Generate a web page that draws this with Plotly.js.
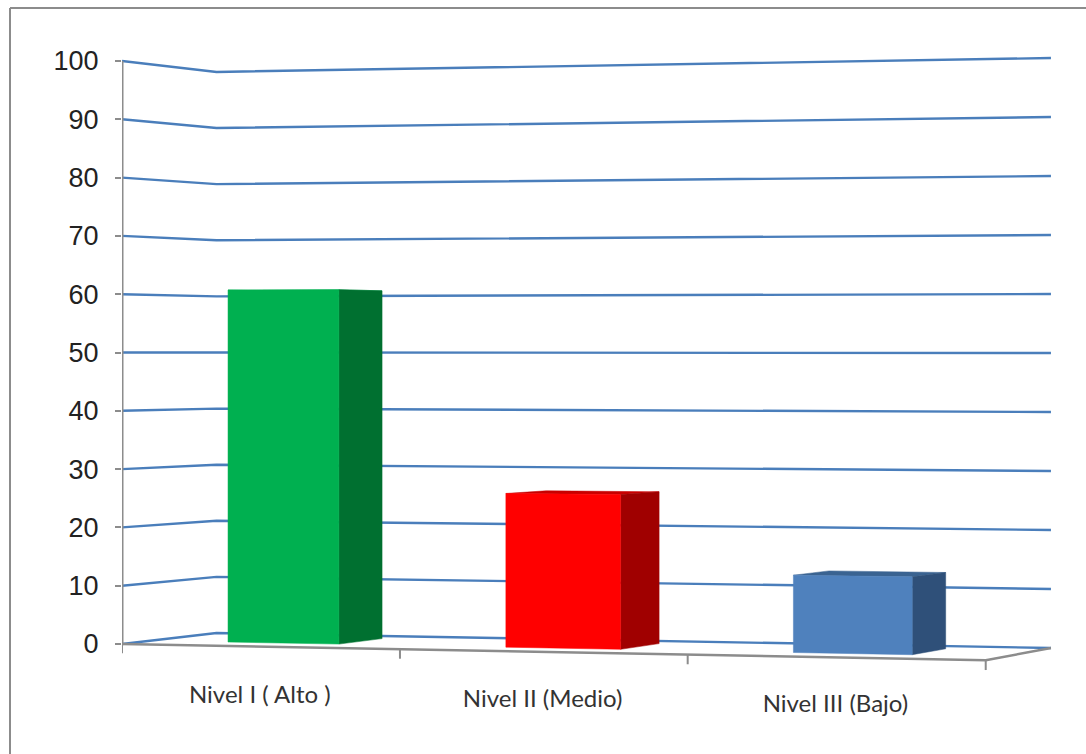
<!DOCTYPE html>
<html>
<head>
<meta charset="utf-8">
<script src="https://cdn.plot.ly/plotly-3.0.1.min.js"></script>
<style>html,body{margin:0;padding:0;background:#fff}#chart{width:1086px;height:754px}</style>
</head>
<body>
<div id="chart"></div>
<script>
// Percentage of cases per level
const categories = ['Nivel I ( Alto )', 'Nivel II (Medio)', 'Nivel III (Bajo)'];
const values = [60.8, 26.1, 12.9];
const gridValues = [0, 10, 20, 30, 40, 50, 60, 70, 80, 90, 100];
const frontColors = ['#00B050', '#FF0000', '#4F81BD'];
const sideColors = ['#007030', '#A00000', '#2F5079'];
const topColors = ['#22B868', '#C80000', '#3A6391'];

// Page geometry in pixels: value 0 and value 100 sit at yZero and yHundred on the front-left edge
const frame = {left: 122, yZero: 644, yHundred: 61, width: 1086, height: 754};
const pxPerUnit = (frame.yZero - frame.yHundred) / 100;

// Perspective camera: u runs along the categories (0..1), v is the value, d is the depth (0..1)
const cam = {ax: 813.5, ad: 103, x0: 122, bu: -17.43, bd: 13.76, wu: -0.05095, wd: 0.0391};
function project(u, v, d) {
  const w = 1 + cam.wu * u + cam.wd * d;
  const px = (cam.ax * u + cam.ad * d + cam.x0) / w;
  const py = (cam.bu * u - pxPerUnit * v + cam.bd * d + frame.yZero) / w;
  return [px, (frame.yZero - py) / pxPerUnit];
}

function path(points, name, color, width) {
  const p = points.map(q => project(q[0], q[1], q[2]));
  return {type: 'scatter', mode: 'lines', name, hoverinfo: 'skip',
    x: p.map(q => q[0]), y: p.map(q => q[1]),
    line: {color, width, simplify: false}};
}
function face(points, name, color) {
  const p = points.concat([points[0]]).map(q => project(q[0], q[1], q[2]));
  return {type: 'scatter', mode: 'lines', name, hoverinfo: 'skip',
    x: p.map(q => q[0]), y: p.map(q => q[1]), fill: 'toself', fillcolor: color,
    line: {color, width: 0.5}};
}

const traces = [];

// Gridlines on the side wall and the back wall
gridValues.forEach(v => {
  traces.push(path([[0, v, 0], [0, v, 1], [1, v, 1]], 'grid ' + v, '#4A7EBB', 2.4));
});

// Value axis line, floor edges and category ticks
traces.push(path([[0, 0, 0], [0, 100, 0]], 'value axis', '#8C8C8C', 3));
traces.push(path([[0, 0, 0], [1, 0, 0], [1, 0, 1]], 'floor', '#8C8C8C', 2.4));
[0, 1 / 3, 2 / 3, 1].forEach((u, i) => {
  traces.push(path([[u, 0, 0], [u, -1.6, 0]], 'tick ' + i, '#8C8C8C', 2));
});

// Bars
const barStart = 0.1615, barStep = 1 / 3, barHalf = 0.0672, d0 = 0.3, d1 = 0.79;
values.forEach((v, i) => {
  const a = barStart + barStep * i - barHalf, b = barStart + barStep * i + barHalf;
  traces.push(face([[a, v, d0], [b, v, d0], [b, v, d1], [a, v, d1]], categories[i] + ' top', topColors[i]));
  traces.push(face([[b, 0, d0], [b, v, d0], [b, v, d1], [b, 0, d1]], categories[i] + ' side', sideColors[i]));
  traces.push(face([[a, 0, d0], [b, 0, d0], [b, v, d0], [a, v, d0]], categories[i], frontColors[i]));
});

// Category labels under the floor edge, centred on each category slot
const labels = categories.map((c, i) => project((i + 0.5) / 3, -8.5 + 0.25 * i, 0));
traces.push({type: 'scatter', mode: 'text', name: 'labels', hoverinfo: 'skip',
  x: labels.map(q => q[0]), y: labels.map(q => q[1]), text: categories, textposition: 'middle center',
  textfont: {family: 'Lato, "Open Sans", sans-serif', size: 24, color: '#333333'}});

// Outer chart border (top and left sides only)
const borderLine = {color: '#8C8C8C', width: 2};
const fx = p => (p - frame.left) / (frame.width - frame.left);
const fy = p => 1 - p / frame.height;

const layout = {
  width: frame.width, height: frame.height, autosize: false,
  margin: {l: frame.left, r: 0, t: 0, b: 0, pad: 0},
  paper_bgcolor: '#ffffff', plot_bgcolor: 'rgba(0,0,0,0)', showlegend: false,
  xaxis: {visible: false, range: [frame.left, frame.width], fixedrange: true},
  yaxis: {range: [(frame.yZero - frame.height) / pxPerUnit, frame.yZero / pxPerUnit],
    tickvals: gridValues, ticks: 'outside', ticklen: 6, tickwidth: 2, tickcolor: '#8C8C8C',
    showline: false, showgrid: false, zeroline: false, fixedrange: true,
    ticklabelstandoff: 11,
    tickfont: {family: '"Liberation Sans", Arial, sans-serif', size: 27, color: '#222222'}},
  shapes: [
    {type: 'line', xref: 'paper', yref: 'paper', x0: fx(10), x1: fx(1086), y0: fy(8), y1: fy(8), line: borderLine},
    {type: 'line', xref: 'paper', yref: 'paper', x0: fx(10), x1: fx(10), y0: fy(8), y1: fy(754), line: borderLine}
  ]
};

Plotly.newPlot('chart', traces, layout, {displayModeBar: false, staticPlot: true});
</script>
</body>
</html>
